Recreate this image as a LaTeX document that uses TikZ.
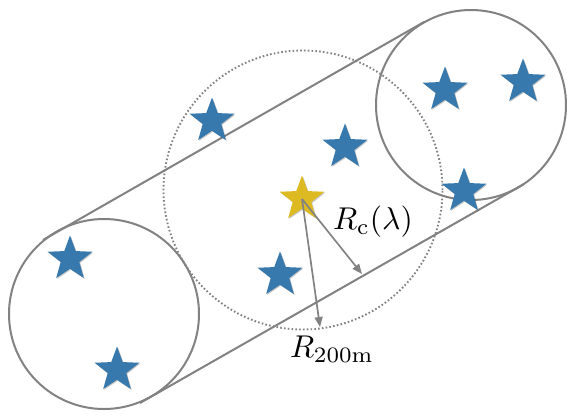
\documentclass[tikz,border=0pt]{standalone}
\usetikzlibrary{shapes.geometric,arrows.meta,shadows}
\definecolor{starblue}{HTML}{3779AD}
\definecolor{staryellow}{HTML}{DDBA22}
\definecolor{linegray}{HTML}{828282}
\begin{document}
\begin{tikzpicture}[x=1pt,y=-1pt,
  starbase/.style={star, star points=5, star point ratio=2.4, minimum size=47pt,
    inner sep=0pt, outer sep=0pt, draw=none,
    drop shadow={shadow xshift=0.9pt, shadow yshift=-0.9pt, fill=black, opacity=0.22}},
  bluestar/.style={starbase, fill=starblue},
  yellowstar/.style={starbase, fill=staryellow},
  ring/.style={circle, draw=linegray, line width=2pt, inner sep=0pt, outer sep=0pt},
  dotring/.style={circle, draw=linegray, line width=1.9pt, inner sep=0pt, outer sep=0pt,
    dash pattern=on 1.6pt off 2.2pt},
  tube/.style={draw=linegray, line width=2pt},
  radius arrow/.style={draw=linegray, line width=1.7pt, -{Triangle[length=10pt,width=8pt]}},
  lbl/.style={inner sep=0pt, font=\normalsize, scale=3.15}
]
\useasboundingbox (0,0) rectangle (567,416);
\fill[white] (0,0) rectangle (567,416);

% cylinder ends and the central aperture
\node[ring, minimum size=190pt] (L) at (104,314) {};
\node[ring, minimum size=190pt] (Rt) at (471,105) {};
\node[dotring, minimum size=279pt] (D) at (303,190) {};

% tube sides
\coordinate (t1) at (43,240);
\coordinate (t2) at (424,22);
\coordinate (b1) at (140,403);
\coordinate (b2) at (524,184);
\draw[tube] (t1) -- (t2);
\draw[tube] (b1) -- (b2);

% galaxies
\node[bluestar] (s1) at (212,121) {};
\node[bluestar] (s2) at (345,147) {};
\node[bluestar] (s3) at (445,90) {};
\node[bluestar] (s4) at (523,82) {};
\node[bluestar] (s5) at (464,191) {};
\node[bluestar] (s6) at (70,259) {};
\node[bluestar] (s7) at (280,275) {};
\node[bluestar] (s8) at (117,370) {};
\node[yellowstar] (c) at (302,199) {};

% radii
\coordinate (rc) at (362,274);
\coordinate (rm) at (320,327);
\draw[radius arrow] (c.center) -- (rc);
\draw[radius arrow] (c.center) -- (rm);

\node[lbl] (lrc) at (373,222) {$R_{\mathrm{c}}(\lambda)$};
\node[lbl] (lrm) at (332,349) {$R_{\mathrm{200m}}$};
\end{tikzpicture}
\end{document}
